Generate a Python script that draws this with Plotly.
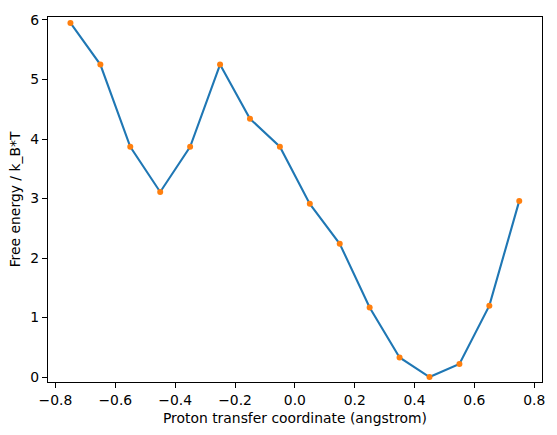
import plotly.graph_objects as go

x_coord = [-0.75, -0.65, -0.55, -0.45, -0.35, -0.25, -0.15, -0.05,
           0.05, 0.15, 0.25, 0.35, 0.45, 0.55, 0.65, 0.75]
free_energy = [5.95, 5.25, 3.87, 3.11, 3.87, 5.25, 4.34, 3.87,
               2.91, 2.24, 1.17, 0.33, 0.0, 0.22, 1.20, 2.96]

x_ticks = [-0.8, -0.6, -0.4, -0.2, 0.0, 0.2, 0.4, 0.6, 0.8]
x_labels = ["\u22120.8", "\u22120.6", "\u22120.4", "\u22120.2", "0.0", "0.2", "0.4", "0.6", "0.8"]
y_ticks = [0, 1, 2, 3, 4, 5, 6]

font = dict(family="DejaVu Sans", size=13.9, color="black")

fig = go.Figure()
fig.add_trace(go.Scatter(x=x_coord, y=free_energy, mode="lines",
                         line=dict(color="#1f77b4", width=2.1), showlegend=False))
fig.add_trace(go.Scatter(x=x_coord, y=free_energy, mode="markers",
                         marker=dict(color="#ff7f0e", size=6), showlegend=False))

axis_common = dict(showgrid=False, zeroline=False, showline=True, linecolor="black",
                   linewidth=1.1, mirror=True, ticks="outside", ticklen=5,
                   tickcolor="black", tickwidth=1.1, tickfont=font)

fig.update_layout(
    width=557, height=435,
    margin=dict(l=48, r=12, t=13, b=53),
    paper_bgcolor="white", plot_bgcolor="white",
    font=font,
    xaxis=dict(range=[-0.825, 0.826], tickvals=x_ticks, ticktext=x_labels,
               title=dict(text="Proton transfer coordinate (angstrom)", font=font, standoff=6),
               **axis_common),
    yaxis=dict(range=[-0.083, 6.05], tickvals=y_ticks,
               title=dict(text="Free energy / k_B*T", font=font, standoff=6),
               **axis_common),
)

fig.write_html("out.html")
